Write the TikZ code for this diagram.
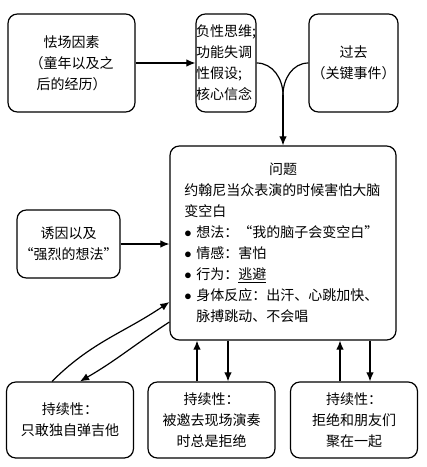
\documentclass[tikz,border=0pt]{standalone}
\usepackage{fontspec}
\newfontfamily\cjk{Noto Sans CJK SC}
\usepackage{tikz}
\usetikzlibrary{arrows.meta, calc}

\newcommand{\bul}[1]{\par\hangindent=9pt\hangafter=1\noindent\makebox[9pt][l]{$\bullet$}#1\par}

\begin{document}
\begin{tikzpicture}[x=0.75pt, y=0.75pt,
    line width=0.9pt,
    box/.style={draw, line width=0.9pt, rounded corners=7pt, align=center, inner sep=0pt,
                font=\cjk\fontsize{10.5}{15.7}\selectfont},
    topbox/.style={box, minimum height=73.5pt},
    keepbox/.style={box, minimum width=95.25pt, minimum height=57pt},
    Arr/.style={-{Latex[length=2.4mm, width=2mm]}},
                    ]
    \useasboundingbox (0,0) rectangle (426,-467);

    % top row
    \node[topbox, minimum width=95.25pt] (fear)  at (71.5,-63) {怯场因素\\（童年以及之\\后的经历）};
    \node[topbox, minimum width=45pt, align=left] (belief) at (226,-63) {负性思维;\\功能失调\\性假设;\\核心信念};
    \node[topbox, minimum width=66.75pt] (past) at (353.5,-63) {过去\\（关键事件）};

    % the problem
    \node[box, align=left, text width=148pt, minimum width=169.5pt, minimum height=145.5pt] (problem) at (283,-243)
        {{\centering 问题\par}
         约翰尼当众表演的时候害怕大脑\\变空白
         \bul{想法：“我的脑子会变空白”}
         \bul{情感：害怕}
         \bul{行为：\underline{逃避}}
         \bul{身体反应：出汗、心跳加快、\newline 脉搏跳动、不会唱}};

    \node[box, minimum width=77.25pt, minimum height=51pt] (trigger) at (68.5,-244) {诱因以及\\“强烈的想法”};

    % bottom row
    \node[keepbox] (guitar)  at (70,-420)    {持续性：\\只敢独自弹吉他};
    \node[keepbox] (gig)     at (211.5,-420) {持续性：\\被邀去现场演奏\\时总是拒绝};
    \node[keepbox] (friends) at (354,-420)   {持续性：\\拒绝和朋友们\\聚在一起};

    % connectors
    \coordinate (merge) at (283,-95);
    \draw[Arr] (fear) -- (belief);
    \draw (belief.east) to[out=0, in=90] (merge);
    \draw (past.west) to[out=180, in=90] (merge);
    \draw[Arr] (merge) -- (problem.north);

    \draw[Arr] (trigger) -- (trigger -| problem.west);

    \draw[Arr] ($(guitar.north)+(-18,0)$) to[out=45, in=214] ($(problem.west)+(0,-59)$);
    \draw[Arr] ($(problem.west)+(0,-79)$) to[out=213, in=30] ($(guitar.north)+(10,0)$);

    \coordinate (gigup)   at ($(gig.north)+(-14.5,0)$);
    \coordinate (gigdown) at ($(gig.north)+(16.5,0)$);
    \draw[Arr] (gigup) -- (gigup |- problem.south);
    \draw[Arr] (gigdown |- problem.south) -- (gigdown);

    \coordinate (friup)   at ($(friends.north)+(-14,0)$);
    \coordinate (fridown) at ($(friends.north)+(16,0)$);
    \draw[Arr] (friup) -- (friup |- problem.south);
    \draw[Arr] (fridown |- problem.south) -- (fridown);

\end{tikzpicture}
\end{document}
